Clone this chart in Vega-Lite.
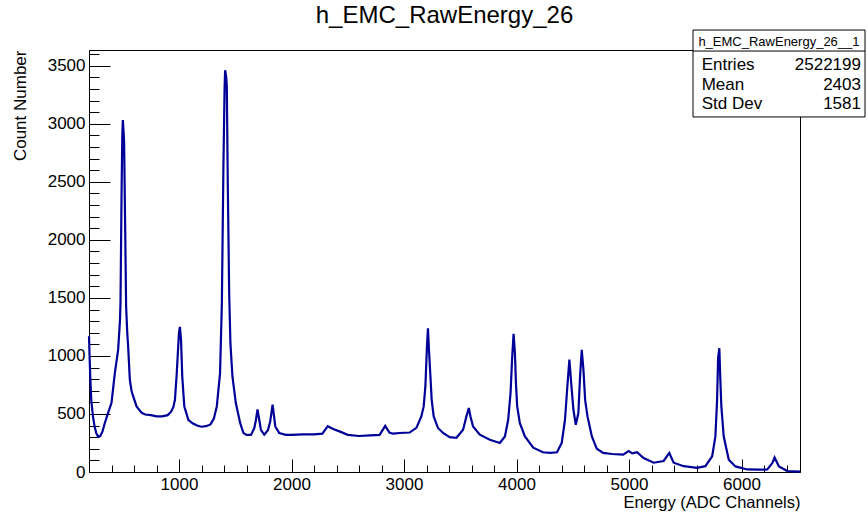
{
  "$schema": "https://vega.github.io/schema/vega-lite/v6.json",
  "width": 711,
  "height": 422,
  "autosize": "none",
  "padding": {"left": 89, "top": 50, "right": 68, "bottom": 43},
  "background": "white",
  "config": {"view": {"stroke": "black", "strokeWidth": 1}, "font": "Liberation Sans"},
  "title": {"text": "h_EMC_RawEnergy_26", "fontSize": 24, "fontWeight": "normal", "font": "Liberation Sans", "anchor": "middle", "frame": "group", "offset": 2, "color": "black"},
  "resolve": {"axis": {"x": "independent", "y": "independent"}},
  "layer": [
    {
      "data": {"values": [
        {"energy":200,"count":1170},{"energy":205,"count":1000},{"energy":212,"count":800},{"energy":220,"count":620},{"energy":235,"count":480},{"energy":250,"count":390},{"energy":265,"count":335},{"energy":280,"count":305},{"energy":300,"count":310},{"energy":320,"count":350},{"energy":340,"count":420},{"energy":370,"count":510},{"energy":400,"count":596},{"energy":430,"count":854},{"energy":459,"count":1052},{"energy":475,"count":1300},{"energy":480,"count":1456},{"energy":489,"count":2360},{"energy":496,"count":2900},{"energy":501,"count":3032},{"energy":506,"count":2950},{"energy":512,"count":2845},{"energy":521,"count":2145},{"energy":530,"count":1425},{"energy":540,"count":1200},{"energy":548,"count":1081},{"energy":563,"count":794},{"energy":578,"count":700},{"energy":593,"count":651},{"energy":623,"count":565},{"energy":668,"count":510},{"energy":700,"count":495},{"energy":750,"count":490},{"energy":800,"count":480},{"energy":850,"count":480},{"energy":900,"count":490},{"energy":930,"count":520},{"energy":950,"count":560},{"energy":964,"count":622},{"energy":980,"count":850},{"energy":988,"count":995},{"energy":1000,"count":1200},{"energy":1008,"count":1250},{"energy":1018,"count":1139},{"energy":1029,"count":823},{"energy":1047,"count":565},{"energy":1083,"count":450},{"energy":1120,"count":420},{"energy":1160,"count":400},{"energy":1200,"count":390},{"energy":1240,"count":395},{"energy":1280,"count":410},{"energy":1310,"count":460},{"energy":1336,"count":565},{"energy":1365,"count":852},{"energy":1381,"count":1454},{"energy":1395,"count":2645},{"energy":1405,"count":3300},{"energy":1410,"count":3462},{"energy":1420,"count":3400},{"energy":1425,"count":3318},{"energy":1434,"count":2458},{"energy":1446,"count":1540},{"energy":1457,"count":1110},{"energy":1475,"count":823},{"energy":1505,"count":594},{"energy":1544,"count":421},{"energy":1573,"count":336},{"energy":1600,"count":320},{"energy":1640,"count":320},{"energy":1670,"count":380},{"energy":1684,"count":450},{"energy":1698,"count":540},{"energy":1710,"count":470},{"energy":1728,"count":364},{"energy":1758,"count":321},{"energy":1790,"count":360},{"energy":1810,"count":430},{"energy":1832,"count":580},{"energy":1845,"count":480},{"energy":1856,"count":392},{"energy":1891,"count":336},{"energy":1950,"count":320},{"energy":2000,"count":320},{"energy":2100,"count":325},{"energy":2200,"count":325},{"energy":2275,"count":330},{"energy":2322,"count":395},{"energy":2370,"count":370},{"energy":2426,"count":350},{"energy":2500,"count":320},{"energy":2600,"count":310},{"energy":2700,"count":315},{"energy":2783,"count":320},{"energy":2833,"count":398},{"energy":2870,"count":340},{"energy":2903,"count":330},{"energy":2961,"count":336},{"energy":3050,"count":340},{"energy":3110,"count":380},{"energy":3154,"count":479},{"energy":3175,"count":565},{"energy":3190,"count":737},{"energy":3204,"count":1081},{"energy":3213,"count":1239},{"energy":3222,"count":1052},{"energy":3235,"count":823},{"energy":3246,"count":622},{"energy":3264,"count":479},{"energy":3302,"count":379},{"energy":3347,"count":336},{"energy":3406,"count":300},{"energy":3466,"count":295},{"energy":3525,"count":364},{"energy":3555,"count":479},{"energy":3576,"count":551},{"energy":3591,"count":479},{"energy":3614,"count":392},{"energy":3674,"count":321},{"energy":3763,"count":278},{"energy":3852,"count":250},{"energy":3897,"count":306},{"energy":3926,"count":450},{"energy":3947,"count":680},{"energy":3962,"count":995},{"energy":3974,"count":1190},{"energy":3986,"count":1024},{"energy":3995,"count":766},{"energy":4006,"count":565},{"energy":4030,"count":421},{"energy":4075,"count":306},{"energy":4149,"count":210},{"energy":4235,"count":170},{"energy":4300,"count":165},{"energy":4360,"count":170},{"energy":4402,"count":250},{"energy":4431,"count":450},{"energy":4452,"count":737},{"energy":4470,"count":968},{"energy":4485,"count":780},{"energy":4506,"count":536},{"energy":4527,"count":407},{"energy":4550,"count":508},{"energy":4565,"count":823},{"energy":4580,"count":1052},{"energy":4595,"count":880},{"energy":4610,"count":622},{"energy":4631,"count":479},{"energy":4670,"count":306},{"energy":4714,"count":200},{"energy":4770,"count":165},{"energy":4850,"count":155},{"energy":4948,"count":150},{"energy":4996,"count":180},{"energy":5030,"count":160},{"energy":5071,"count":170},{"energy":5130,"count":120},{"energy":5219,"count":80},{"energy":5308,"count":95},{"energy":5358,"count":164},{"energy":5397,"count":80},{"energy":5486,"count":50},{"energy":5605,"count":35},{"energy":5679,"count":50},{"energy":5739,"count":134},{"energy":5768,"count":306},{"energy":5783,"count":622},{"energy":5792,"count":981},{"energy":5803,"count":1067},{"energy":5812,"count":794},{"energy":5821,"count":565},{"energy":5842,"count":306},{"energy":5887,"count":106},{"energy":5946,"count":48},{"energy":6051,"count":22},{"energy":6150,"count":20},{"energy":6229,"count":22},{"energy":6274,"count":77},{"energy":6294,"count":125},{"energy":6333,"count":48},{"energy":6408,"count":8},{"energy":6520,"count":3}
      ]},
      "mark": {"type": "line", "color": "#000099", "strokeWidth": 2.2, "interpolate": "linear"},
      "encoding": {
        "x": {"field": "energy", "type": "quantitative",
          "scale": {"domain": [200, 6520], "nice": false, "zero": false},
          "axis": {
            "orient": "bottom",
            "values": [400,600,800,1000,1200,1400,1600,1800,2000,2200,2400,2600,2800,3000,3200,3400,3600,3800,4000,4200,4400,4600,4800,5000,5200,5400,5600,5800,6000,6200,6400],
            "format": "d",
            "labelExpr": "datum.value % 1000 === 0 ? datum.label : ''",
            "tickSize": {"condition": {"test": "datum.value % 1000 === 0", "value": -13}, "value": -7},
            "tickColor": "black", "tickWidth": 1, "domainColor": "black", "grid": false,
            "labelFont": "Liberation Sans", "labelFontSize": 17, "labelColor": "black", "labelPadding": 17,
            "labelFlush": false, "labelOverlap": false,
            "title": "Energy (ADC Channels)", "titleAnchor": "end", "titleFont": "Liberation Sans", "titleFontSize": 16.5,
            "titleFontWeight": "normal", "titleColor": "black", "titlePadding": -4
          }},
        "y": {"field": "count", "type": "quantitative",
          "scale": {"domain": [0, 3636], "nice": false},
          "axis": {
            "orient": "left",
            "values": [0,100,200,300,400,500,600,700,800,900,1000,1100,1200,1300,1400,1500,1600,1700,1800,1900,2000,2100,2200,2300,2400,2500,2600,2700,2800,2900,3000,3100,3200,3300,3400,3500,3600],
            "format": "d",
            "labelExpr": "datum.value % 500 === 0 ? datum.label : ''",
            "tickSize": {"condition": {"test": "datum.value % 500 === 0", "value": -21}, "value": -10},
            "tickColor": "black", "tickWidth": 1, "domainColor": "black", "grid": false,
            "labelFont": "Liberation Sans", "labelFontSize": 17, "labelColor": "black", "labelPadding": 25,
            "labelOverlap": false, "labelFlush": false,
            "title": "Count Number", "titleAnchor": "end", "titleFont": "Liberation Sans", "titleFontSize": 17,
            "titleFontWeight": "normal", "titleColor": "black", "titlePadding": 18
          }}
      }
    },
    {
      "data": {"values": [{}]},
      "mark": {"type": "rect", "fill": "white", "stroke": "black", "strokeWidth": 1},
      "encoding": {
        "x": {"datum": 5569, "type": "quantitative", "axis": null}, "x2": {"datum": 7098},
        "y": {"datum": 3808, "type": "quantitative", "axis": null}, "y2": {"datum": 3059}
      }
    },
    {
      "data": {"values": [{}]},
      "mark": {"type": "rule", "color": "black", "strokeWidth": 1},
      "encoding": {
        "x": {"datum": 5569, "type": "quantitative", "axis": null}, "x2": {"datum": 7098},
        "y": {"datum": 3627, "type": "quantitative", "axis": null}
      }
    },
    {
      "data": {"values": [{}]},
      "mark": {"type": "text", "text": "h_EMC_RawEnergy_26__1", "align": "center", "baseline": "alphabetic", "fontSize": 13, "font": "Liberation Sans", "color": "black"},
      "encoding": {"x": {"datum": 6333, "type": "quantitative", "axis": null}, "y": {"datum": 3670, "type": "quantitative", "axis": null}}
    },
    {
      "data": {"values": [{}]},
      "mark": {"type": "text", "text": "Entries", "align": "left", "baseline": "alphabetic", "fontSize": 17, "font": "Liberation Sans", "color": "black"},
      "encoding": {"x": {"datum": 5646, "type": "quantitative", "axis": null}, "y": {"datum": 3464, "type": "quantitative", "axis": null}}
    },
    {
      "data": {"values": [{}]},
      "mark": {"type": "text", "text": "2522199", "align": "right", "baseline": "alphabetic", "fontSize": 17, "font": "Liberation Sans", "color": "black"},
      "encoding": {"x": {"datum": 7062, "type": "quantitative", "axis": null}, "y": {"datum": 3464, "type": "quantitative", "axis": null}}
    },
    {
      "data": {"values": [{}]},
      "mark": {"type": "text", "text": "Mean", "align": "left", "baseline": "alphabetic", "fontSize": 17, "font": "Liberation Sans", "color": "black"},
      "encoding": {"x": {"datum": 5646, "type": "quantitative", "axis": null}, "y": {"datum": 3291, "type": "quantitative", "axis": null}}
    },
    {
      "data": {"values": [{}]},
      "mark": {"type": "text", "text": "2403", "align": "right", "baseline": "alphabetic", "fontSize": 17, "font": "Liberation Sans", "color": "black"},
      "encoding": {"x": {"datum": 7062, "type": "quantitative", "axis": null}, "y": {"datum": 3291, "type": "quantitative", "axis": null}}
    },
    {
      "data": {"values": [{}]},
      "mark": {"type": "text", "text": "Std Dev", "align": "left", "baseline": "alphabetic", "fontSize": 17, "font": "Liberation Sans", "color": "black"},
      "encoding": {"x": {"datum": 5646, "type": "quantitative", "axis": null}, "y": {"datum": 3128, "type": "quantitative", "axis": null}}
    },
    {
      "data": {"values": [{}]},
      "mark": {"type": "text", "text": "1581", "align": "right", "baseline": "alphabetic", "fontSize": 17, "font": "Liberation Sans", "color": "black"},
      "encoding": {"x": {"datum": 7062, "type": "quantitative", "axis": null}, "y": {"datum": 3128, "type": "quantitative", "axis": null}}
    }
  ]
}
